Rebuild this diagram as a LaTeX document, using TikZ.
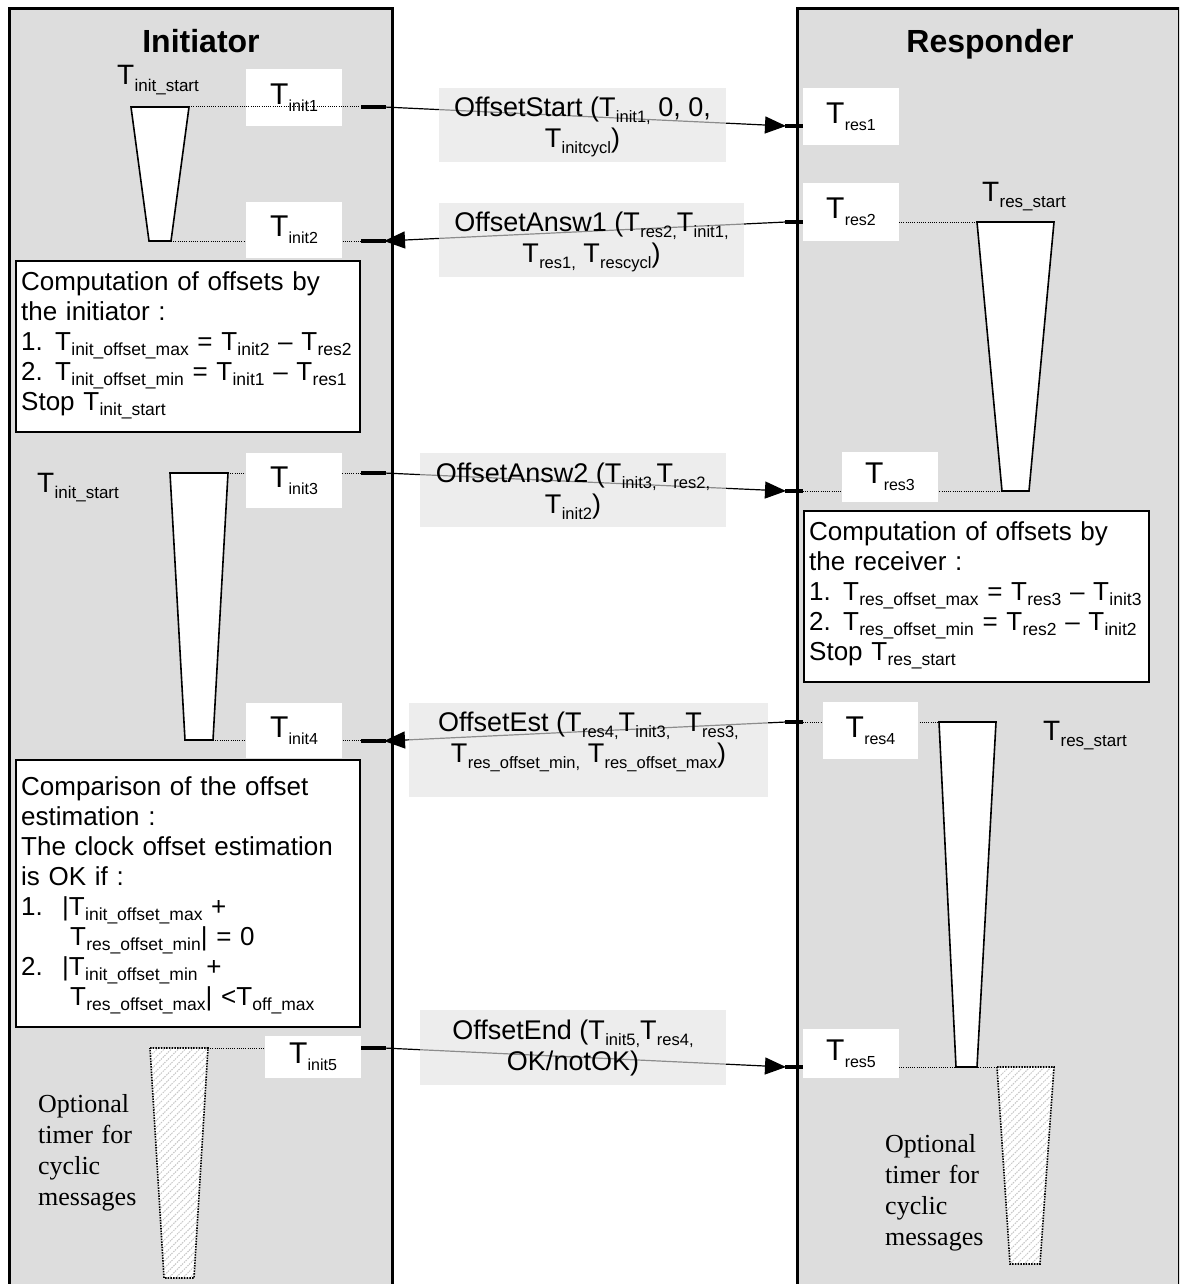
\documentclass[tikz,border=0pt]{standalone}
\usepackage{fontspec}
\setmainfont{Liberation Sans}
\newfontfamily\timesfont{Liberation Serif}
\usetikzlibrary{arrows.meta,patterns.meta}

\definecolor{panelgray}{HTML}{DDDDDD}
\definecolor{msggray}{HTML}{E2E2E2}

% size of the subscript that follows a T
\def\subsz{17}
\newcommand\Tx[1]{T\kern0.3pt\raisebox{-0.22em}{\fontsize{\subsz}{\subsz}\selectfont #1}}

\tikzset{
  border/.style={line width=3pt},
  timer/.style={draw, line width=1.6pt, fill=white, line join=miter},
  opttimer/.style={preaction={fill=white}, pattern={Lines[angle=45,distance=5pt,line width=1pt]},
    pattern color=black!22, draw, line width=1.6pt, dash pattern=on 1.5pt off 1.2pt},
  dots/.style={line width=1pt, dash pattern=on 1pt off 1.2pt},
  marker/.style={line width=4pt},
  msg/.style={line width=1.2pt, -{Triangle[length=21pt,width=17pt]}},
  stamp/.style={fill=white, inner sep=0pt, font={\fontsize{30}{34}\selectfont\def\subsz{16}}},
  msgbox/.style={fill=msggray, fill opacity=0.62, inner sep=0pt},
  msgtext/.style={align=center, inner sep=0pt, font={\fontsize{27}{31}\selectfont\def\subsz{16.5}}},
  note/.style={draw, line width=1.6pt, fill=white},
  notetext/.style={align=left, text width=340pt, anchor=base west, inner sep=0pt,
    font={\fontsize{26}{30}\selectfont\def\subsz{17.5}}},
  startlbl/.style={anchor=base west, inner sep=0pt, font={\fontsize{28}{30}\selectfont\def\subsz{17}}},
  title/.style={anchor=base, inner sep=0pt, font={\fontsize{32}{36}\selectfont\bfseries}},
  optlbl/.style={align=left, text width=150pt, anchor=base west, inner sep=0pt,
    font={\timesfont\fontsize{26}{31}\selectfont}},
}

\begin{document}
\begin{tikzpicture}[x=1pt,y=-1pt]
\useasboundingbox (0,0) rectangle (1179,1284);
\clip (0,0) rectangle (1179,1284);

% the two lanes
\fill[panelgray] (9,9) rectangle (392,1300);
\draw[border] (9,1300) -- (9,9) -- (392,9) -- (392,1300);
\fill[panelgray] (797,9) rectangle (1179,1300);
\draw[border] (797,1300) -- (797,9) -- (1179,9) -- (1179,1300);

\node[title] (ini) at (201,53) {Initiator};
\node[title] (res) at (990,53) {Responder};

% ---------- dotted time lines ----------
\draw[dots] (171,241) -- (362,241);
\draw[dots] (228,473) -- (362,473);
\draw[dots] (213,740) -- (362,740);
\draw[dots] (208,1048) -- (265,1048);
\draw[dots] (899,222) -- (977,222);
\draw[dots] (803,491) -- (1002,491);
\draw[dots] (803,722) -- (939,722);
\draw[dots] (899,1067) -- (1054,1067);

% ---------- timers ----------
\draw[timer] (131,107) -- (189,107) -- (171,241) -- (149,241) -- cycle;
\draw[timer] (170,473) -- (228,473) -- (213,740) -- (185,740) -- cycle;
\draw[timer] (977,222) -- (1054,222) -- (1029,491) -- (1002,491) -- cycle;
\draw[timer] (939,722) -- (996,722) -- (977,1067) -- (956,1067) -- cycle;
\path[opttimer] (150,1048) -- (208,1048) -- (194,1278) -- (164,1278) -- cycle;
\path[opttimer] (997,1067) -- (1054,1067) -- (1040,1264) -- (1010,1264) -- cycle;

\node[startlbl] (is1) at (117,85) {\Tx{init\_start}};
\node[startlbl] (is2) at (37,492) {\Tx{init\_start}};
\node[startlbl] (rs1) at (982,201) {\Tx{res\_start}};
\node[startlbl] (rs2) at (1043,740) {\Tx{res\_start}};

% ---------- time stamps ----------
\node[stamp, minimum width=96pt, minimum height=57pt] (ti1) at (294,97.5) {\Tx{init1}};
\draw[dots] (189,107) -- (362,107);
\node[stamp, minimum width=96pt, minimum height=56pt] (ti2) at (294,230) {\Tx{init2}};
\node[stamp, minimum width=96pt, minimum height=55pt] (ti3) at (294,480.5) {\Tx{init3}};
\node[stamp, minimum width=96pt, minimum height=55pt] (ti4) at (294,730.5) {\Tx{init4}};
\node[stamp, minimum width=96pt, minimum height=42pt] (ti5) at (313,1057) {\Tx{init5}};
\node[stamp, minimum width=96pt, minimum height=57pt] (tr1) at (851,116.5) {\Tx{res1}};
\node[stamp, minimum width=96pt, minimum height=58pt] (tr2) at (851,212) {\Tx{res2}};
\node[stamp, minimum width=96pt, minimum height=50pt] (tr3) at (890,477) {\Tx{res3}};
\node[stamp, minimum width=95pt, minimum height=57pt] (tr4) at (870.5,730.5) {\Tx{res4}};
\node[stamp, minimum width=96pt, minimum height=49pt] (tr5) at (851,1053.5) {\Tx{res5}};

% ---------- send / receive points on the lanes ----------
\coordinate (i1) at (384,107);  \coordinate (r1) at (786,126);
\coordinate (i2) at (384,241);  \coordinate (r2) at (786,222);
\coordinate (i3) at (384,473);  \coordinate (r3) at (786,491);
\coordinate (i4) at (384,741);  \coordinate (r4) at (786,722);
\coordinate (i5) at (384,1048); \coordinate (r5) at (786,1067);

\foreach \y in {107,241,473,741,1048} \draw[marker] (361,\y) -- (386,\y);
\foreach \y in {126,222,491,722,1067} \draw[marker] (785,\y) -- (803,\y);

% ---------- messages ----------
\draw[msg] (i1) -- (r1);
\draw[msg] (r2) -- (i2);
\draw[msg] (i3) -- (r3);
\draw[msg] (r4) -- (i4);
\draw[msg] (i5) -- (r5);

\node[msgbox, minimum width=287pt, minimum height=74pt] (b1) at (582.5,125) {};
\node[msgbox, minimum width=305pt, minimum height=74pt] (b2) at (591.5,240) {};
\node[msgbox, minimum width=306pt, minimum height=74pt] (b3) at (573,490) {};
\node[msgbox, minimum width=359pt, minimum height=94pt] (b4) at (588.5,750) {};
\node[msgbox, minimum width=306pt, minimum height=75pt] (b5) at (573,1047.5) {};

\node[msgtext] (m1) at (582.5,127) {OffsetStart (\Tx{init1,} 0, 0,\\\Tx{initcycl})};
\node[msgtext] (m2) at (591.5,242) {OffsetAnsw1 (\Tx{res2,}\Tx{init1,}\\\Tx{res1,} \Tx{rescycl})};
\node[msgtext] (m3) at (573,491) {OffsetAnsw2 (\Tx{init3,}\Tx{res2,}\\\Tx{init2})};
\node[msgtext] (m4) at (588.5,742) {OffsetEst (\Tx{res4,}\Tx{init3,}\ \ \Tx{res3,}\\\Tx{res\_offset\_min,} \Tx{res\_offset\_max})};
\node[msgtext] (m5) at (573,1048) {OffsetEnd (\Tx{init5,}\Tx{res4,}\\OK/notOK)};

% ---------- computation notes ----------
\draw[note] (16,261) rectangle (360,432);
\node[notetext] (n1) at (21,290) {Computation of offsets by\\
  the initiator :\\
  \makebox[34pt][l]{1.}\Tx{init\_offset\_max} = \Tx{init2} -- \Tx{res2}\\
  \makebox[34pt][l]{2.}\Tx{init\_offset\_min} = \Tx{init1} -- \Tx{res1}\\
  Stop \Tx{init\_start}};

\draw[note] (804,511) rectangle (1149,682);
\node[notetext] (n2) at (809,540) {Computation of offsets by\\
  the receiver :\\
  \makebox[34pt][l]{1.}\Tx{res\_offset\_max} = \Tx{res3} -- \Tx{init3}\\
  \makebox[34pt][l]{2.}\Tx{res\_offset\_min} = \Tx{res2} -- \Tx{init2}\\
  Stop \Tx{res\_start}};

\draw[note] (16,760) rectangle (360,1027);
\node[notetext] (n3) at (21,795) {Comparison of the offset\\
  estimation :\\
  The clock offset estimation\\
  is OK if :\\
  \makebox[41pt][l]{1.}|\Tx{init\_offset\_max} +\\
  \hspace*{49pt}\Tx{res\_offset\_min}| = 0\\
  \makebox[41pt][l]{2.}|\Tx{init\_offset\_min} +\\
  \hspace*{49pt}\Tx{res\_offset\_max}| <\Tx{off\_max}};

% ---------- optional cyclic timers ----------
\node[optlbl] (o1) at (38,1112) {Optional\\timer for\\cyclic\\messages};
\node[optlbl] (o2) at (885,1152) {Optional\\timer for\\cyclic\\messages};
\end{tikzpicture}
\end{document}
